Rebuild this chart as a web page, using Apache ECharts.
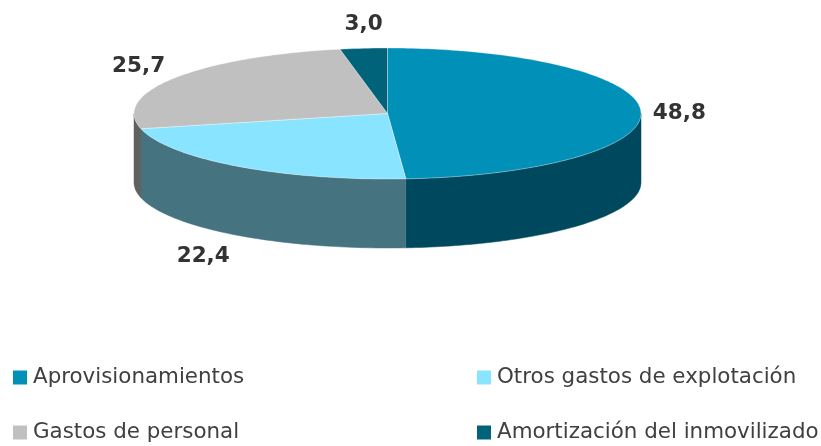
<!DOCTYPE html>
<html lang="en">
<head>
    <meta charset="UTF-8">
    <title>Gastos</title>
    <script src="https://cdn.jsdelivr.net/npm/echarts@6/dist/echarts.min.js"></script>
    <style>
        html, body { margin: 0; padding: 0; background: #fff; }
        #main { width: 821px; height: 446px; }
    </style>
</head>
<body>
<div id="main"></div>
<script>
    var categories = ['Aprovisionamientos', 'Otros gastos de explotación', 'Gastos de personal', 'Amortización del inmovilizado'];
    var values = [48.8, 22.4, 25.7, 3.0];
    var valueLabels = ['48,8', '22,4', '25,7', '3,0'];

    var topColors = ['#0090b8', '#89e5ff', '#c0c0c0', '#00637a'];
    var sideColors = ['#00485e', '#467380', '#606060', '#00323d'];

    // ellipse of the lid and height of the wall, in pixels
    var cx = 387.5, cy = 113.5, rx = 253.5, ry = 65.5, depth = 69;
    // label shift from the slice's rim point
    var labelShift = [[38.5, 2], [-34.5, 90], [-36, -11.5], [0, -24]];
    // legend box of each category
    var legendPos = [[8, 362], [472, 362], [8, 417], [472, 417]];

    var total = values.reduce(function (a, b) { return a + b; }, 0);

    function rim(angle, dy) {
        return [cx + rx * Math.sin(angle), cy - ry * Math.cos(angle) + (dy || 0)];
    }

    function arcPoints(a0, a1, dy) {
        var pts = [];
        var steps = Math.max(2, Math.ceil(Math.abs(a1 - a0) / 0.02));
        for (var i = 0; i <= steps; i++) {
            pts.push(rim(a0 + (a1 - a0) * i / steps, dy));
        }
        return pts;
    }

    function renderSlice(params, api) {
        var idx = params.seriesIndex;
        var before = 0;
        for (var i = 0; i < idx; i++) before += values[i];
        var a0 = before / total * Math.PI * 2;
        var a1 = (before + api.value(0)) / total * Math.PI * 2;
        var children = [];

        // wall: only the part of the rim that faces the viewer
        var w0 = Math.max(a0, Math.PI / 2);
        var w1 = Math.min(a1, Math.PI * 1.5);
        if (w1 > w0) {
            children.push({
                type: 'polygon',
                z2: 1,
                shape: { points: arcPoints(w0, w1, 0).concat(arcPoints(w1, w0, depth)) },
                style: { fill: sideColors[idx], stroke: sideColors[idx], lineWidth: 0.5 }
            });
        }

        // lid
        children.push({
            type: 'polygon',
            z2: 2,
            shape: { points: [[cx, cy]].concat(arcPoints(a0, a1, 0)) },
            style: { fill: topColors[idx], stroke: 'rgba(255,255,255,0.45)', lineWidth: 0.8 }
        });

        var mid = rim((a0 + a1) / 2, 0);
        children.push({
            type: 'text',
            z2: 3,
            x: mid[0] + labelShift[idx][0],
            y: mid[1] + labelShift[idx][1],
            style: {
                text: valueLabels[idx],
                fill: '#333333',
                font: 'bold 21.5px "DejaVu Sans"',
                align: 'center',
                verticalAlign: 'middle'
            }
        });
        return { type: 'group', children: children };
    }

    var chart = echarts.init(document.getElementById('main'), null, { renderer: 'canvas' });

    chart.setOption({
        animation: false,
        backgroundColor: '#ffffff',
        legend: categories.map(function (name, i) {
            return {
                left: legendPos[i][0],
                top: legendPos[i][1],
                itemWidth: 14,
                itemHeight: 14,
                icon: 'rect',
                selectedMode: false,
                textStyle: { fontFamily: 'DejaVu Sans', fontSize: 21.4, color: '#404040', padding: [0, 0, 0, 1] },
                data: [name]
            };
        }),
        series: categories.map(function (name, i) {
            return {
                type: 'custom',
                name: name,
                coordinateSystem: 'none',
                silent: true,
                itemStyle: { color: topColors[i] },
                renderItem: renderSlice,
                data: [[values[i]]]
            };
        })
    });
</script>
</body>
</html>
